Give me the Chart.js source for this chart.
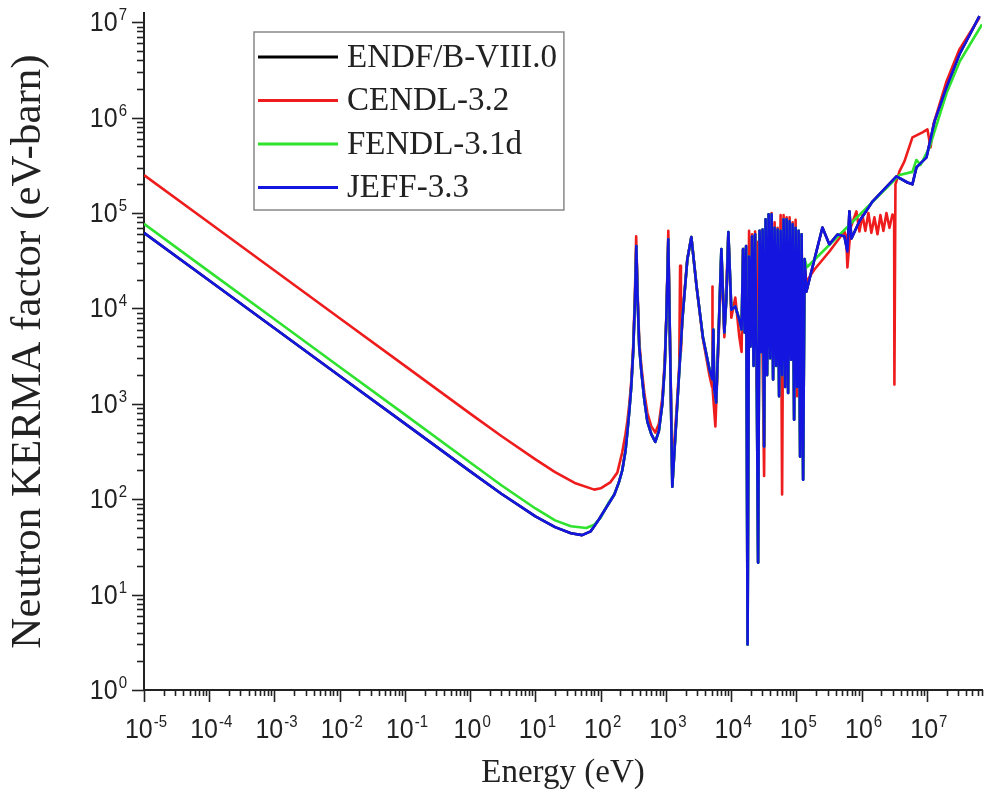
<!DOCTYPE html>
<html>
<head>
<meta charset="utf-8">
<script src="https://cdn.jsdelivr.net/npm/chart.js@4.4.1/dist/chart.umd.min.js"></script>
<style>
  html, body { margin: 0; padding: 0; background: #fff; }
  #wrap { width: 984px; height: 802px; position: relative; }
</style>
</head>
<body>
<div id="wrap"><canvas id="myChart"></canvas></div>
<script>
// data (energy in eV, kerma factor in eV-barn)
const libraries = ['ENDF/B-VIII.0', 'CENDL-3.2', 'FENDL-3.1d', 'JEFF-3.3'];
const libColors = ['#000000', '#ee1c1c', '#2ee22e', '#1515e0'];

const xTickExps = [-5, -4, -3, -2, -1, 0, 1, 2, 3, 4, 5, 6, 7];
const yTickExps = [0, 1, 2, 3, 4, 5, 6, 7];

// JEFF-3.3
const jeffE = [1e-5, 1e-4, 1e-3, 1e-2, 0.1, 1, 3, 10, 20, 35, 52, 70, 95, 130, 162, 190, 214, 240, 256, 275,
  294, 315, 335, 352, 368, 390, 420, 467, 520, 597, 688, 780, 881, 960, 1014, 1060, 1088, 1120, 1167, 1253,
  1445, 1786, 2130, 2455, 2950, 3690, 4640, 5150, 5330, 5520, 5890, 6370, 7080, 7870, 8440, 9060, 10070, 11590, 13360,
  14450, 15240, 16070, 16940, 17860, 18840, 19860, 20940, 22080, 23280, 24550, 25880, 27290, 28770, 30340,
  31990, 33730, 35560, 37500, 39540, 41690, 43950, 46340, 48870, 51520, 54330, 57280, 60390, 63680, 67140,
  70790, 74640, 78700, 82990, 87500, 92260, 97270, 102570, 108140, 114020, 120230, 126770, 133660,
  142200, 250600, 320600, 425600, 544500, 605300, 650100, 698200, 925000, 1465000, 3420000, 5040000, 6010000,
  6920000, 9860000, 1.31e7, 2.0e7, 3.16e7, 6.4e7];
const jeffK = [6.2e4, 1.96e4, 6.2e3, 1.96e3, 620, 196, 114, 66, 51, 44, 42, 46, 62, 88, 112, 150, 200, 320, 500, 850,
  1500, 3500, 1.2e4, 4.5e4, 1.3e4, 4000, 2200, 1100, 650, 480, 400, 520, 1000, 2500, 7600, 2.5e4, 5.3e4, 1.5e4, 3000, 135,
  680, 7600, 3.26e4, 5.6e4, 1.7e4, 5000, 2300, 1800, 6000, 1410, 1030, 4700, 4.2e4, 5600, 1.24e4, 6.3e4, 9700, 1.05e4, 7600,
  6000, 4.2e4, 5600, 4.5e4, 3.0, 3.5e4, 4000, 5.7e4, 2500, 6.0e4, 3000, 21.6, 6.5e4, 3500, 6.7e4,
  356, 8.6e4, 2000, 9.7e4, 3000, 9.7e4, 1800, 7.0e4, 2500, 6.7e4, 1200, 6.5e4, 2000, 8.6e4, 1500,
  8.6e4, 1300, 8.2e4, 2900, 7.6e4, 680, 7.0e4, 1500, 6.5e4, 279, 6.0e4, 160, 3.3e4,
  1.5e4, 7.06e4, 4.69e4, 5.96e4, 5.7e4, 3.95e4, 1.04e5, 5.4e4, 8.2e4, 1.32e5, 2.42e5, 2.09e5, 2.0e5,
  3.01e5, 3.83e5, 9.14e5, 2.08e6, 4.62e6, 1.16e7];

// CENDL-3.2
const cendlE = [1e-5, 1e-4, 1e-3, 1e-2, 0.1, 1, 3, 10, 20, 40, 80, 100, 140, 180, 214, 240, 256, 275, 294, 315,
  335, 350, 368, 390, 420, 467, 520, 597, 688, 780, 881, 960, 1014, 1060, 1088, 1120, 1167, 1253, 1445, 1600,
  1650, 1700, 1786, 2130, 2455, 2950, 3690, 4640, 5100, 5150, 5200, 5730, 6370, 7080, 7870, 9060, 10070, 11590, 13360,
  14450, 15240, 16070, 16940, 17860, 18840, 19860, 20940, 22080, 23280, 24550, 25880, 27290, 28770, 30340,
  31990, 33730, 35560, 37500, 39540, 41690, 43950, 46340, 48870, 51520, 54330, 57280, 60390, 63680, 67140,
  70790, 74640, 78700, 82990, 87500, 92260, 97270, 102570, 108140, 114020, 120230, 126770, 133660,
  142200, 189000, 320600, 544500, 580000, 605300, 680000, 832000, 925000, 1030000, 1140000, 1270000, 1410000,
  1570000, 1750000, 1940000, 2160000, 2400000, 2670000, 2970000, 3150000, 3180000, 3300000, 3800000, 4530000,
  6010000, 8570000, 1.02e7, 1.14e7, 1.26e7, 2.0e7, 3.16e7, 6.4e7];
const cendlK = [2.5e5, 7.9e4, 2.5e4, 7.9e3, 2.5e3, 790, 460, 262, 192, 148, 126, 130, 150, 190, 310, 480, 650, 1000, 1700, 4000,
  1.4e4, 5.7e4, 1.5e4, 4500, 2500, 1300, 800, 580, 500, 620, 1150, 2800, 8000, 2.8e4, 6.5e4, 1.6e4, 3200, 200, 800, 2500,
  2.8e4, 3500, 8000, 3.3e4, 5.6e4, 1.7e4, 4800, 2000, 1500, 1.7e4, 1500, 580, 4000, 3.5e4, 5000, 6.0e4, 8000, 1.3e4, 5000,
  3500, 4.2e4, 6000, 1.5e4, 2000, 6.5e4, 8000, 6.0e4, 3000, 6.4e4, 1500, 5.0e4, 2.0e4, 6.5e4, 3000,
  175, 6.0e4, 3000, 9.5e4, 2.0e4, 1.0e5, 3000, 8.0e4, 3000, 7.0e4, 4000, 9.5e4, 112, 9.5e4, 5000,
  9.0e4, 3000, 9.0e4, 4000, 8.0e4, 2000, 8.5e4, 1200, 6.0e4, 2500, 5.5e4, 3000, 2.5e4,
  1.91e4, 2.56e4, 3.95e4, 6.4e4, 5.68e4, 2.69e4, 7.06e4, 1.04e5, 6.4e4, 9.5e4, 6.5e4, 1.0e5, 6.2e4,
  9.0e4, 6.0e4, 9.5e4, 6.5e4, 1.0e5, 7.0e4, 9.66e4, 9.0e4, 1590, 2.0e5, 2.73e5, 3.48e5,
  6.21e5, 7.01e5, 7.54e5, 4.88e5, 8.51e5, 2.4e6, 5.2e6, 1.12e7];

// FENDL-3.1d: own curve below 190 eV and above 1.4e5 eV, lies under JEFF in the resonance range
const fendlLowE = [1e-5, 1e-4, 1e-3, 1e-2, 0.1, 1, 3, 10, 20, 35, 60, 80, 100, 130, 162];
const fendlLowK = [7.7e4, 2.43e4, 7.7e3, 2.43e3, 770, 243, 140, 80, 60, 52, 50, 54, 64, 90, 113];
const fendlHighE = [145000, 3800000, 6000000, 6900000, 8000000, 1.1e7, 2.0e7, 3.2e7, 7.0e7];
const fendlHighK = [2.7e4, 2.5e5, 2.7e5, 3.6e5, 3.2e5, 4.9e5, 1.8e6, 3.9e6, 9.5e6];

function pts(es, ks) {
  return es.map((e, i) => ({ x: e, y: ks[i] }));
}

const jeffPts = pts(jeffE, jeffK);
const fendlPts = pts(fendlLowE, fendlLowK)
  .concat(jeffPts.filter(p => p.x >= 190 && p.x <= 133660))
  .concat(pts(fendlHighE, fendlHighK));

// ENDF/B-VIII.0 sits exactly under JEFF-3.3 in the figure
const seriesPts = [jeffPts, pts(cendlE, cendlK), fendlPts, jeffPts];
const drawOrder = [4, 3, 2, 1];

const serif = '"Liberation Serif", "Times New Roman", serif';
const sans = '"Liberation Sans", Arial, sans-serif';

// "10" with a raised exponent
function powLabel(ctx, exp, x, y, align) {
  const es = exp < 0 ? '-' + Math.abs(exp) : String(exp);
  ctx.save();
  ctx.font = '25px ' + sans;
  const wb = ctx.measureText('10').width;
  ctx.font = '15px ' + sans;
  const we = ctx.measureText(es).width;
  const x0 = align === 'center' ? x - (wb + we + 1) / 2 : x - (wb + we + 1);
  ctx.translate(x0, y);
  ctx.scale(1, 1.1);
  ctx.textAlign = 'left';
  ctx.textBaseline = 'alphabetic';
  ctx.font = '25px ' + sans;
  ctx.fillText('10', 0, 0);
  ctx.font = '15px ' + sans;
  ctx.fillText(es, wb + 1, -10);
  ctx.restore();
}

const axisExtras = {
  id: 'axisExtras',
  afterDraw(chart) {
    const ctx = chart.ctx;
    const xs = chart.scales.x, ys = chart.scales.y;
    const area = chart.chartArea;
    ctx.save();
    ctx.strokeStyle = '#222';
    ctx.fillStyle = '#222';
    ctx.lineWidth = 1.6;
    xTickExps.forEach(p => {
      for (let k = 1; k <= 9; k++) {
        const v = k * Math.pow(10, p);
        if (v < xs.min * 0.999 || v > xs.max) continue;
        const px = Math.round(xs.getPixelForValue(v)) + 0.5;
        const len = k === 1 ? 12 : 6;
        ctx.beginPath();
        ctx.moveTo(px, area.bottom);
        ctx.lineTo(px, area.bottom + len);
        ctx.stroke();
      }
      powLabel(ctx, p, xs.getPixelForValue(Math.pow(10, p)) + 2, area.bottom + 48, 'center');
    });
    yTickExps.forEach(p => {
      for (let k = 1; k <= 9; k++) {
        const v = k * Math.pow(10, p);
        if (v < ys.min * 0.999 || v > ys.max) continue;
        const py = Math.round(ys.getPixelForValue(v)) + 0.5;
        const len = k === 1 ? 12 : 7;
        ctx.beginPath();
        ctx.moveTo(area.left, py);
        ctx.lineTo(area.left - len, py);
        ctx.stroke();
      }
      powLabel(ctx, p, area.left - 17, ys.getPixelForValue(Math.pow(10, p)) + 9, 'right');
    });

    // legend box inside the plot
    const lx = 254, ly = 32, rowH = 43.5;
    ctx.font = '33px ' + serif;
    const tw = Math.max(...libraries.map(s => ctx.measureText(s).width));
    ctx.strokeStyle = '#888';
    ctx.lineWidth = 1.5;
    ctx.strokeRect(lx, ly, 347 - lx + tw + 7, rowH * 4 + 4);
    libraries.forEach((name, i) => {
      const cy = ly + 25 + i * rowH;
      ctx.strokeStyle = libColors[i];
      ctx.lineWidth = 3;
      ctx.beginPath();
      ctx.moveTo(258, cy);
      ctx.lineTo(338, cy);
      ctx.stroke();
      ctx.fillStyle = '#222';
      ctx.textAlign = 'left';
      ctx.textBaseline = 'middle';
      ctx.fillText(name, 347, cy + 1);
    });
    ctx.restore();
  }
};

const ctx = document.getElementById('myChart');

new Chart(ctx, {
  type: 'line',
  data: {
    datasets: libraries.map((name, i) => ({
      label: name,
      data: seriesPts[i],
      order: drawOrder[i],
      borderColor: libColors[i],
      backgroundColor: libColors[i],
      borderWidth: 2.6,
      borderJoinStyle: 'round',
      pointRadius: 0,
      tension: 0,
      fill: false
    }))
  },
  options: {
    responsive: true,
    maintainAspectRatio: false,
    animation: false,
    layout: { padding: { top: 13, right: 2, left: 0, bottom: 0 } },
    plugins: {
      legend: { display: false },
      tooltip: { enabled: false }
    },
    scales: {
      x: {
        type: 'logarithmic',
        min: 1e-5,
        max: 7e7,
        grid: { display: false },
        border: { display: true, color: '#222', width: 2 },
        ticks: { display: false },
        title: {
          display: true,
          text: 'Energy (eV)',
          color: '#222',
          font: { family: serif, size: 33 },
          padding: { top: 0, bottom: 9 }
        },
        afterFit(scale) { scale.height = 112; }
      },
      y: {
        type: 'logarithmic',
        min: 1,
        max: 1.25e7,
        grid: { display: false },
        border: { display: true, color: '#222', width: 2 },
        ticks: { display: false },
        title: {
          display: true,
          text: 'Neutron KERMA factor (eV-barn)',
          color: '#222',
          font: { family: serif, size: 43 },
          padding: { top: 3, bottom: 0 }
        },
        afterFit(scale) { scale.width = 144; }
      }
    }
  },
  plugins: [axisExtras]
});
</script>
</body>
</html>
